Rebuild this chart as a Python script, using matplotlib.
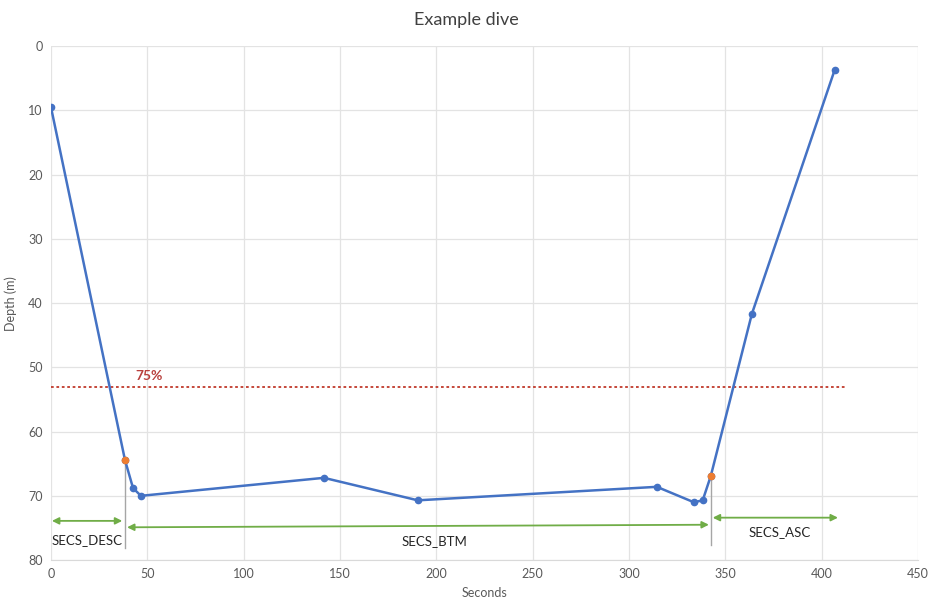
import matplotlib
matplotlib.use("Agg")
import matplotlib.pyplot as plt

plt.rcParams['font.family'] = ['Lato', 'DejaVu Sans']

# Data
seconds = [0, 38.4, 42.6, 46.7, 141.7, 190.4, 314.5, 333.7, 338.3, 342.5, 363.8, 406.8]
depth = [9.5, 64.4, 68.8, 70.0, 67.2, 70.7, 68.6, 71.0, 70.7, 66.9, 41.7, 3.7]
marker_seconds = [38.4, 342.5]
marker_depth = [64.4, 66.9]
threshold_depth = 53.1
threshold_label = "75%"
phase_labels = ["SECS_DESC", "SECS_BTM", "SECS_ASC"]
x_ticks = [0, 50, 100, 150, 200, 250, 300, 350, 400, 450]
y_ticks = [0, 10, 20, 30, 40, 50, 60, 70, 80]

blue = '#4472C4'
orange = '#ED7D31'
green = '#70AD47'
gray_text = '#595959'

fig = plt.figure(figsize=(9.3, 5.99), dpi=100)
ax = fig.add_axes([0.0548, 0.065, 0.9322, 0.858])

ax.set_xlim(0, 450)
ax.set_ylim(80, 0)
ax.set_xticks(x_ticks)
ax.set_yticks(y_ticks)
ax.grid(True, color='#e3e3e3', linewidth=0.9)
ax.set_axisbelow(True)
for s in ['top', 'right', 'left']:
    ax.spines[s].set_visible(False)
ax.spines['bottom'].set_color('#d9d9d9')
ax.tick_params(axis='both', length=0, colors=gray_text, labelsize=9, pad=6)

ax.plot(seconds, depth, color=blue, linewidth=1.8, marker='o', markersize=4.5, zorder=3)
ax.plot(marker_seconds, marker_depth, linestyle='none', marker='o', color=orange,
        markersize=4.5, zorder=4)

# 75% threshold line
ax.plot([0, 413], [threshold_depth, threshold_depth], linestyle=(0, (1.5, 1.5)),
        color='#C0392B', linewidth=1.3, zorder=2)
ax.text(44, threshold_depth - 0.8, threshold_label, color='#B8403D', fontsize=10,
        fontweight='bold', ha='left', va='bottom')

# vertical markers
ax.plot([marker_seconds[0], marker_seconds[0]], [marker_depth[0], 78.1], color='#a6a6a6',
        linewidth=1.0, zorder=2)
ax.plot([marker_seconds[1], marker_seconds[1]], [marker_depth[1], 77.7], color='#a6a6a6',
        linewidth=1.0, zorder=2)

arrow_kw = dict(arrowstyle='<|-|>', color=green, lw=1.3, mutation_scale=10,
                shrinkA=0, shrinkB=0)
ax.annotate('', xy=(0.5, 73.9), xytext=(37.0, 73.9), arrowprops=arrow_kw)
ax.annotate('', xy=(39.5, 74.9), xytext=(341.5, 74.5), arrowprops=arrow_kw)
ax.annotate('', xy=(343.5, 73.4), xytext=(408.5, 73.4), arrowprops=arrow_kw)

ax.text(18.7, 76.9, phase_labels[0], fontsize=9.5, color='#262626', ha='center', va='center')
ax.text(199, 77.0, phase_labels[1], fontsize=9.5, color='#262626', ha='center', va='center')
ax.text(378, 75.6, phase_labels[2], fontsize=9.5, color='#262626', ha='center', va='center')

ax.set_xlabel('Seconds', color=gray_text, fontsize=9, labelpad=5)
ax.set_ylabel('Depth (m)', color=gray_text, fontsize=9, labelpad=8)
fig.text(0.501, 0.967, 'Example dive', ha='center', va='center', fontsize=13, color='#404040')

fig.savefig('out.png', dpi=100, facecolor='white')
